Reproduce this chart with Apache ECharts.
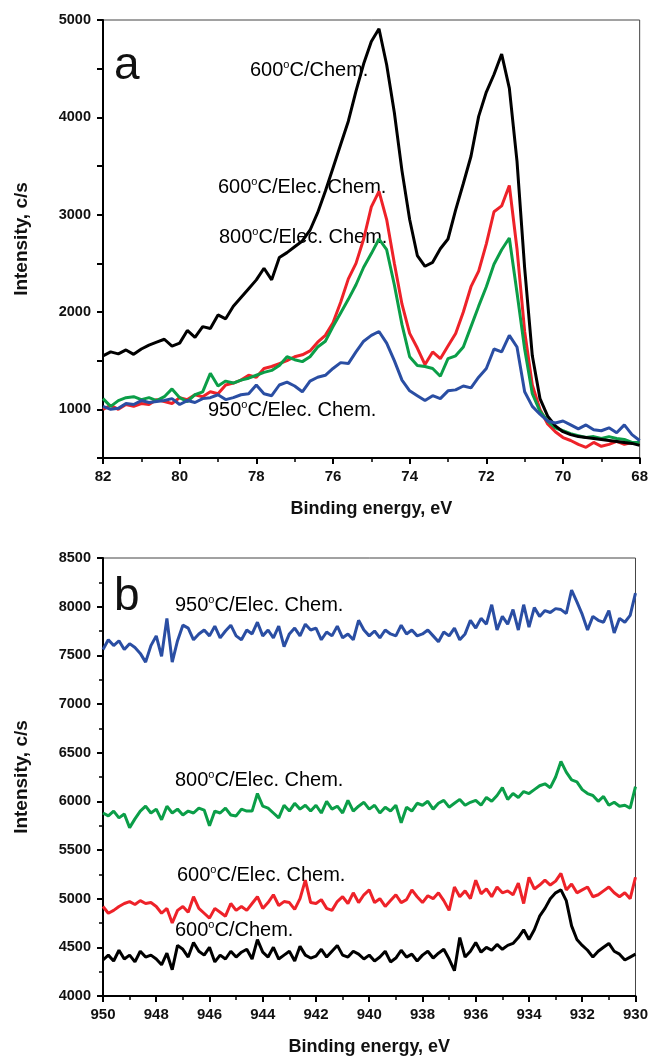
<!DOCTYPE html>
<html>
<head>
<meta charset="utf-8">
<script src="https://cdn.jsdelivr.net/npm/echarts@6/dist/echarts.min.js"></script>
<style>
  html, body { margin: 0; padding: 0; background: #fff; }
  #chart { width: 651px; height: 1057px; }
</style>
</head>
<body>
<div id="chart"></div>
<script>
// panel a: binding energy (eV), high -> low
var energyA = [
  82.0, 81.8, 81.6, 81.4, 81.2, 81.0, 80.8, 80.6, 80.4, 80.2,
  80.0, 79.8, 79.6, 79.4, 79.2, 79.0, 78.8, 78.6, 78.4, 78.2,
  78.0, 77.8, 77.6, 77.4, 77.2, 77.0, 76.8, 76.6, 76.4, 76.2,
  76.0, 75.8, 75.6, 75.4, 75.2, 75.0, 74.8, 74.6, 74.4, 74.2,
  74.0, 73.8, 73.6, 73.4, 73.2, 73.0, 72.8, 72.6, 72.4, 72.2,
  72.0, 71.8, 71.6, 71.4, 71.2, 71.0, 70.8, 70.6, 70.4, 70.2,
  70.0, 69.8, 69.6, 69.4, 69.2, 69.0, 68.8, 68.6, 68.4, 68.2,
  68.0
];
var chemA600 = [
  1550, 1590, 1570, 1610, 1565, 1620, 1660, 1690, 1720, 1650,
  1680, 1810, 1740, 1850, 1830, 1970, 1930, 2060, 2150, 2240,
  2330, 2450, 2330, 2560, 2610, 2670, 2730, 2840, 3020, 3240,
  3480, 3720, 3960, 4270, 4550, 4780, 4910, 4540, 4050, 3450,
  2950, 2580, 2470, 2510, 2650, 2750, 3050, 3320, 3600, 4010,
  4260, 4440, 4650, 4300, 3550, 2450, 1550, 1110, 930, 830,
  770, 740, 720, 710, 700, 690, 680, 670, 660, 650,
  630
];
var elecA600 = [
  1000, 1040, 1000, 1050, 1030, 1060, 1050, 1100, 1080, 1060,
  1120, 1100, 1150, 1130, 1180, 1160, 1250, 1270, 1300, 1350,
  1330, 1420, 1440, 1470, 1500, 1540, 1560, 1600, 1690, 1760,
  1890, 2100, 2340, 2500, 2750, 3080, 3240, 2950, 2500, 2080,
  1780, 1630, 1460, 1590, 1520, 1650, 1780, 2000, 2260, 2420,
  2700, 3030, 3090, 3300, 2650, 1800, 1250, 1000, 850, 770,
  710, 680, 640, 610, 660, 620, 640, 670, 640, 660,
  650
];
var elecA800 = [
  1110, 1030, 1090, 1120, 1130, 1100, 1120, 1090, 1130, 1210,
  1120, 1080, 1150, 1180, 1370, 1240, 1290, 1270, 1300, 1320,
  1350, 1380, 1400, 1450, 1540, 1510, 1490, 1540, 1640, 1700,
  1850, 1990, 2130, 2280, 2460, 2600, 2750, 2640, 2280, 1870,
  1540, 1450, 1440, 1420, 1340, 1520, 1550, 1640, 1850, 2060,
  2260, 2490, 2640, 2760, 2200, 1620, 1160, 980, 880, 810,
  780, 750, 730, 710, 720, 700, 720, 700, 690, 660,
  660
];
var elecA950 = [
  1030, 1000, 1010, 1060, 1050, 1090, 1070, 1080, 1090, 1110,
  1050, 1090, 1070, 1110, 1120, 1150, 1100, 1120, 1150, 1160,
  1250, 1160, 1140, 1250, 1280, 1240, 1180, 1290, 1330, 1350,
  1420, 1480, 1470, 1590, 1700, 1760, 1800, 1680, 1500, 1300,
  1190, 1140, 1090, 1140, 1110, 1190, 1200, 1240, 1220, 1330,
  1420, 1620, 1590, 1760, 1640, 1180, 1030, 950, 880, 860,
  880, 840, 800, 840, 790, 780, 810, 760, 840, 740,
  680
];

// panel b: binding energy (eV), high -> low
var energyB = [
  950.0, 949.8, 949.6, 949.4, 949.2, 949.0, 948.8, 948.6, 948.4, 948.2,
  948.0, 947.8, 947.6, 947.4, 947.2, 947.0, 946.8, 946.6, 946.4, 946.2,
  946.0, 945.8, 945.6, 945.4, 945.2, 945.0, 944.8, 944.6, 944.4, 944.2,
  944.0, 943.8, 943.6, 943.4, 943.2, 943.0, 942.8, 942.6, 942.4, 942.2,
  942.0, 941.8, 941.6, 941.4, 941.2, 941.0, 940.8, 940.6, 940.4, 940.2,
  940.0, 939.8, 939.6, 939.4, 939.2, 939.0, 938.8, 938.6, 938.4, 938.2,
  938.0, 937.8, 937.6, 937.4, 937.2, 937.0, 936.8, 936.6, 936.4, 936.2,
  936.0, 935.8, 935.6, 935.4, 935.2, 935.0, 934.8, 934.6, 934.4, 934.2,
  934.0, 933.8, 933.6, 933.4, 933.2, 933.0, 932.8, 932.6, 932.4, 932.2,
  932.0, 931.8, 931.6, 931.4, 931.2, 931.0, 930.8, 930.6, 930.4, 930.2,
  930.0
];
var elecB950 = [
  7560, 7660, 7600, 7650, 7560, 7620, 7580, 7520, 7430, 7600,
  7700, 7490, 7880, 7430, 7650, 7810, 7780, 7660, 7720, 7760,
  7700, 7800, 7680, 7750, 7810, 7700, 7660, 7760, 7720, 7840,
  7700, 7760, 7680, 7800, 7590, 7720, 7780, 7700, 7820, 7760,
  7780, 7660, 7740, 7700, 7800, 7680, 7720, 7660, 7860, 7760,
  7700, 7750, 7680, 7760, 7720, 7700, 7810, 7720, 7760, 7700,
  7720, 7760, 7700, 7640, 7740, 7700, 7780, 7660, 7720, 7860,
  7780, 7880, 7820, 8020, 7760, 7900, 7820, 7970, 7760, 8020,
  7790, 7990, 7900, 7960, 7940, 7980, 7970, 7930, 8170, 8050,
  7920, 7760, 7900, 7860, 7840, 7960, 7730, 7880, 7840, 7910,
  8140
];
var elecB800 = [
  5880, 5850, 5900, 5830, 5870, 5730, 5820, 5900, 5950, 5880,
  5920, 5810, 5950, 5880, 5920, 5860, 5900, 5880, 5930, 5910,
  5750, 5900, 5880, 5930, 5860, 5850, 5920, 5900, 5900, 6080,
  5950, 5930, 5880, 5830, 5960, 5900, 5980, 5920, 5960, 5900,
  5960, 5880, 6000, 5920, 5950, 5880, 6010, 5900, 5950, 5990,
  5920, 5960, 5880, 5940, 5900, 5960, 5780, 5940, 5900, 5980,
  5960, 6000, 5920, 5980, 6010, 5940, 5980, 6020, 5960, 5990,
  6010, 5960, 6040, 6000, 6060, 6140, 6020, 6080, 6040, 6100,
  6080, 6120, 6160, 6180, 6140, 6250, 6410, 6300, 6220, 6200,
  6120, 6080, 6060, 6000, 6050, 5960, 5990, 5950, 5960, 5930,
  6150
];
var elecB600 = [
  4920, 4850, 4880, 4920, 4950, 4970, 4940, 4980, 4950, 4960,
  4920, 4850, 4900, 4750, 4880, 4920, 4860, 5020, 4900, 4850,
  4800, 4900, 4860, 4820, 4950, 4880, 4920, 4880, 4950, 5020,
  4900, 4960, 5040, 4930, 4970, 4960, 4890, 5000, 5190, 4960,
  4950, 4990, 4900, 4880, 4970, 5020, 4950, 5060, 4960, 5040,
  5090, 4960, 5000, 4920, 4980, 5040, 4960, 4990, 5090, 5020,
  4960, 5030, 5000, 5060, 4980, 4880, 5120, 5020, 5080, 5000,
  5190, 5050, 5100, 5020, 5120, 5060, 5080, 5040, 5160, 4950,
  5220, 5100, 5140, 5190, 5140, 5180, 5260, 5090, 5150, 5060,
  5090, 5120, 5020, 5040, 5080, 5120, 5060, 5020, 5060, 5000,
  5220
];
var chemB600 = [
  4370, 4420, 4360, 4470, 4380, 4420, 4350, 4460, 4400, 4420,
  4380, 4320, 4440, 4270, 4520, 4480, 4400, 4550, 4460, 4420,
  4500, 4350, 4420, 4380, 4460, 4400, 4450, 4480, 4380, 4580,
  4450, 4400, 4500, 4380, 4420, 4460, 4360, 4510, 4420, 4390,
  4410, 4480, 4400, 4460, 4520, 4420, 4400, 4460, 4430, 4380,
  4420, 4360, 4400, 4460, 4350, 4390, 4470, 4400, 4430, 4360,
  4420, 4460, 4390, 4440, 4480, 4380, 4260, 4600, 4400, 4460,
  4550, 4450, 4500, 4470, 4530, 4480, 4520, 4540, 4600, 4680,
  4580, 4680, 4820, 4900, 5000, 5060, 5090, 4980, 4720, 4580,
  4520, 4470, 4400, 4460, 4500, 4540, 4460, 4430, 4370, 4400,
  4430
];

var colors = { black: '#000000', red: '#ee2229', green: '#0b9e48', blue: '#2a4ea3' };
var FONT = "'Liberation Sans', Arial, sans-serif";

function zip(xs, ys) {
  return xs.map(function (x, i) { return [x, ys[i]]; });
}

function xAxisFor(gridIndex, min, max) {
  return {
    type: 'value', gridIndex: gridIndex, min: min, max: max, interval: 2, inverse: true,
    name: 'Binding energy, eV', nameLocation: 'middle', nameGap: 42,
    nameTextStyle: { fontFamily: FONT, fontWeight: 'bold', fontSize: 18, color: '#111' },
    axisLine: { lineStyle: { color: '#000', width: 2 } },
    axisTick: { inside: false, length: 6, lineStyle: { color: '#000', width: 2 } },
    minorTick: { show: true, splitNumber: 2, length: 4, lineStyle: { color: '#000', width: 1.5 } },
    axisLabel: { margin: 11, fontFamily: FONT, fontWeight: 'bold', fontSize: 15, color: '#111' },
    splitLine: { show: false }
  };
}

function yAxisFor(gridIndex, min, max, interval, fmt) {
  return {
    type: 'value', gridIndex: gridIndex, min: min, max: max, interval: interval,
    name: 'Intensity, c/s', nameLocation: 'middle', nameGap: 72,
    nameTextStyle: { fontFamily: FONT, fontWeight: 'bold', fontSize: 19, color: '#111' },
    axisLine: { show: true, lineStyle: { color: '#000', width: 2 } },
    axisTick: { show: true, inside: false, length: 6, lineStyle: { color: '#000', width: 2 } },
    minorTick: fmt ? { show: false } : { show: true, splitNumber: 2, length: 4, lineStyle: { color: '#000', width: 1.5 } },
    axisLabel: {
      margin: 12, fontFamily: FONT, fontWeight: 'bold', fontSize: 14.5, color: '#111',
      formatter: fmt || function (v) { return v; }
    },
    splitLine: { show: false }
  };
}

function line(name, xs, ys, color, idx) {
  return {
    name: name, type: 'line', xAxisIndex: idx, yAxisIndex: idx,
    data: zip(xs, ys), showSymbol: false, symbol: 'none',
    lineStyle: { color: color, width: 3 }, itemStyle: { color: color }
  };
}

var rich = {
  n: { fontFamily: FONT, fontSize: 20, color: '#111', lineHeight: 22 },
  s: { fontFamily: FONT, fontSize: 11, color: '#111', lineHeight: 12, verticalAlign: 'top' }
};

function note(temp, rest, x, y) {
  return {
    type: 'text', x: x, y: y,
    style: {
      text: '{n|' + temp + '}{s|o}{n|' + rest + '}',
      rich: rich, verticalAlign: 'middle', align: 'left'
    }
  };
}

var chart = echarts.init(document.getElementById('chart'), null, { renderer: 'canvas' });

chart.setOption({
  animation: false,
  backgroundColor: '#fff',
  grid: [
    { left: 103, top: 20, width: 539, height: 438, show: true, borderColor: '#444', borderWidth: 1 },
    { left: 103, top: 558, width: 537, height: 438, show: true, borderColor: '#444', borderWidth: 1 }
  ],
  xAxis: [
    xAxisFor(0, 68, 82),
    xAxisFor(1, 930, 950)
  ],
  yAxis: [
    yAxisFor(0, 500, 5000, 500, function (v) { return v % 1000 === 0 ? v : ''; }),
    yAxisFor(1, 4000, 8500, 500)
  ],
  series: [
    line('600C/Elec. Chem.', energyA, elecA600, colors.red, 0),
    line('800C/Elec. Chem.', energyA, elecA800, colors.green, 0),
    line('600C/Chem.', energyA, chemA600, colors.black, 0),
    line('950C/Elec. Chem.', energyA, elecA950, colors.blue, 0),
    line('950C/Elec. Chem.', energyB, elecB950, colors.blue, 1),
    line('800C/Elec. Chem.', energyB, elecB800, colors.green, 1),
    line('600C/Elec. Chem.', energyB, elecB600, colors.red, 1),
    line('600C/Chem.', energyB, chemB600, colors.black, 1)
  ],
  graphic: [
    { type: 'text', x: 114, y: 66, style: { text: 'a', fontFamily: FONT, fontSize: 46, fill: '#111', verticalAlign: 'middle' } },
    { type: 'text', x: 114, y: 597, style: { text: 'b', fontFamily: FONT, fontSize: 46, fill: '#111', verticalAlign: 'middle' } },
    note('600', 'C/Chem.', 250, 70),
    note('600', 'C/Elec. Chem.', 218, 187),
    note('800', 'C/Elec. Chem.', 219, 237),
    note('950', 'C/Elec. Chem.', 208, 410),
    note('950', 'C/Elec. Chem.', 175, 605),
    note('800', 'C/Elec. Chem.', 175, 780),
    note('600', 'C/Elec. Chem.', 177, 875),
    note('600', 'C/Chem.', 175, 930)
  ]
});
</script>
</body>
</html>
